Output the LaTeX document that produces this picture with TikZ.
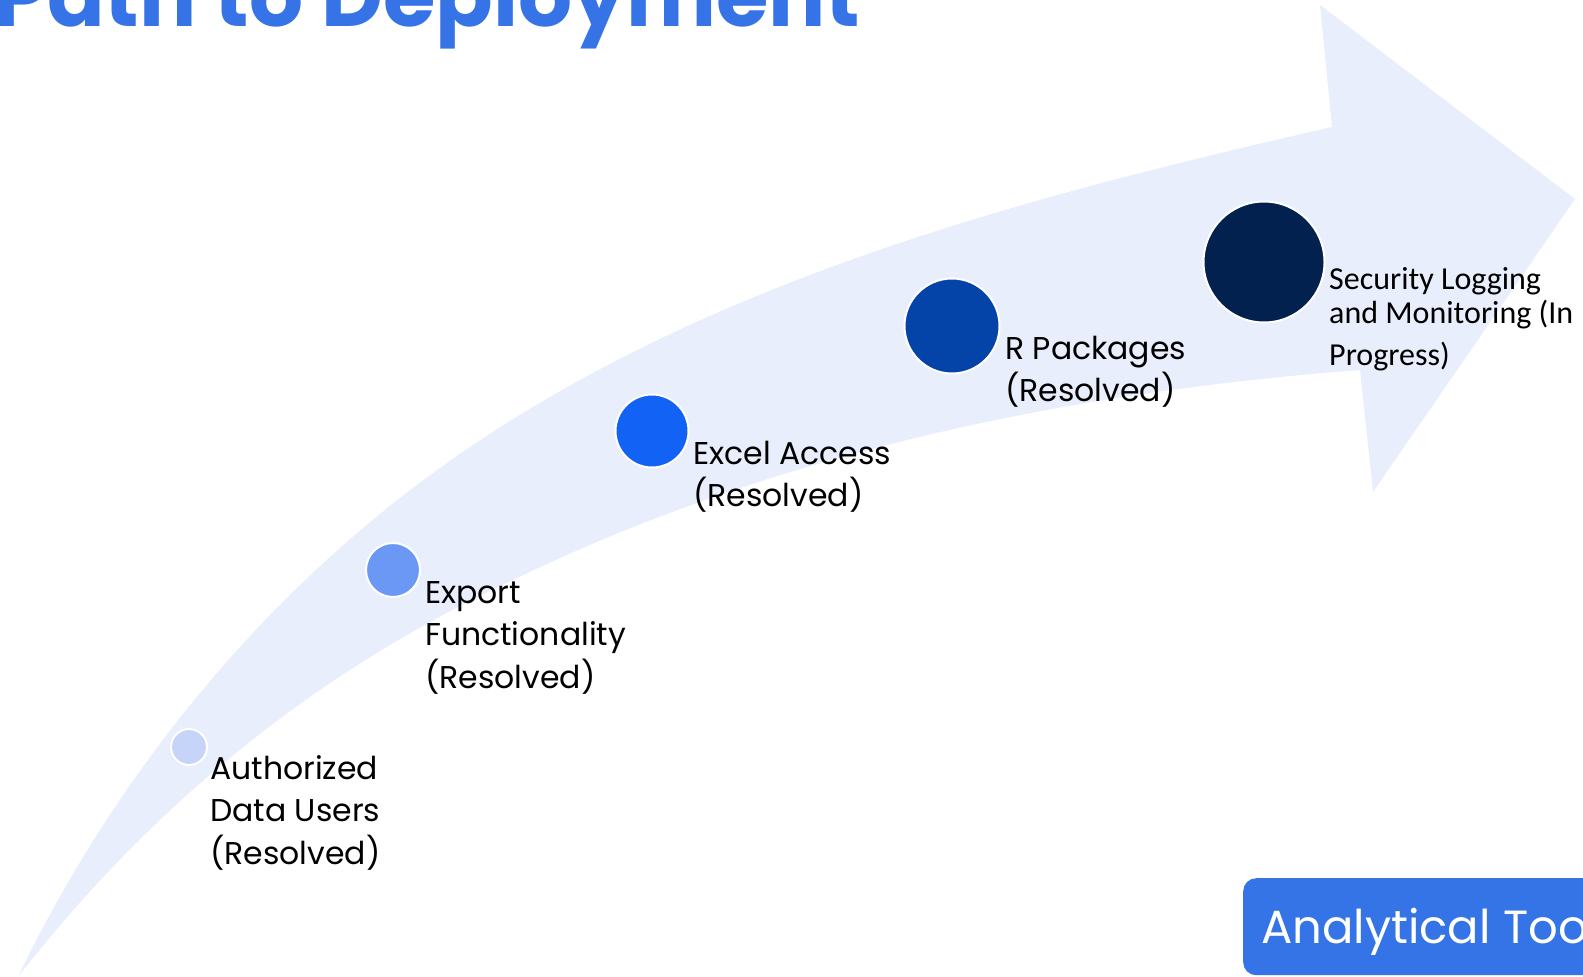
\documentclass[tikz,border=0pt]{standalone}
\usepackage{fontspec}
\newfontfamily\popfont{Poppins}
\newfontfamily\calfont{Carlito}
\definecolor{bandcol}{HTML}{E8EEFC}
\definecolor{titlecol}{HTML}{3573E6}
\definecolor{boxcol}{HTML}{3574E6}
\definecolor{cone}{HTML}{C6D4FA}
\definecolor{ctwo}{HTML}{6C98F5}
\definecolor{cthree}{HTML}{1262F6}
\definecolor{cfour}{HTML}{0444A8}
\definecolor{cfive}{HTML}{03214E}
\tikzset{
  dot/.style={circle, inner sep=0pt, draw=white, line width=2pt},
  lbl/.style={anchor=base west, inner sep=0pt, font=\popfont\fontsize{31.5}{42.5}\selectfont},
}
\begin{document}
\begin{tikzpicture}[x=1pt,y=-1pt]
\useasboundingbox (0,0) rectangle (1583,977);
\clip (0,0) rectangle (1583,977);
% curved arrow band
\coordinate (tip) at (18,977);
\coordinate (um) at (433,473);
\coordinate (un) at (1332,127);
\coordinate (ah) at (1320,5);
\coordinate (ap) at (1575,199);
\coordinate (ab) at (1373,492);
\coordinate (ln) at (1360,370);
\coordinate (lm) at (513,580);
\fill[bandcol] (tip) .. controls (112,781) and (256,602) .. (um)
  .. controls (692,284) and (1020,198) .. (un)
  -- (ah) -- (ap) -- (ab) -- (ln)
  .. controls (1070,392) and (777,452) .. (lm)
  .. controls (321,669) and (156,800) .. (tip) -- cycle;
% title
\node[anchor=base west, inner sep=0pt, text=titlecol, font=\popfont\bfseries\fontsize{85}{100}\selectfont] (title) at (-6,27) {Path to Deployment};
% milestones
\node[dot, fill=cone, minimum size=36pt] (c1) at (189,747) {};
\node[dot, fill=ctwo, minimum size=54pt] (c2) at (393,570) {};
\node[dot, fill=cthree, minimum size=73pt] (c3) at (652,431) {};
\node[dot, fill=cfour, minimum size=95pt] (c4) at (952,326) {};
\node[dot, fill=cfive, minimum size=121pt] (c5) at (1264,262) {};
\node[lbl] (l1) at (210,779) {\begin{tabular}[t]{@{}l@{}}Authorized\\Data Users\\(Resolved)\end{tabular}};
\node[lbl] (l2) at (425,603) {\begin{tabular}[t]{@{}l@{}}Export\\Functionality\\(Resolved)\end{tabular}};
\node[lbl] (l3) at (693,464) {\begin{tabular}[t]{@{}l@{}}Excel Access\\(Resolved)\end{tabular}};
\node[lbl] (l4) at (1005,359) {\begin{tabular}[t]{@{}l@{}}R Packages\\(Resolved)\end{tabular}};
\node[anchor=base west, inner sep=0pt, font=\calfont\fontsize{32}{34.5}\selectfont] (l5) at (1329,289) {\begin{tabular}[t]{@{}l@{}}Security Logging\\and Monitoring (In\\[7pt]Progress)\end{tabular}};
% bottom-right box
\node[fill=boxcol, rounded corners=13pt, anchor=north west, minimum width=420pt, minimum height=97pt, inner sep=0pt] (box) at (1243,878) {};
\node[anchor=base west, inner sep=0pt, text=white, font=\popfont\fontsize{46.5}{56}\selectfont] (boxtext) at (1261,943) {Analytical Tool};
\end{tikzpicture}
\end{document}
